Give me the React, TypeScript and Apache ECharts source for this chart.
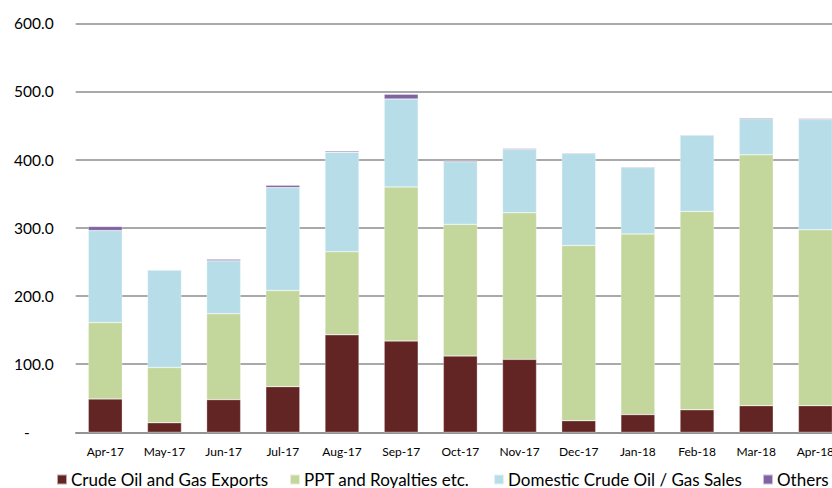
import React, { useEffect, useRef } from "react";
import * as echarts from "echarts";

const months = ["Apr-17", "May-17", "Jun-17", "Jul-17", "Aug-17", "Sep-17", "Oct-17", "Nov-17", "Dec-17", "Jan-18", "Feb-18", "Mar-18", "Apr-18"];
const crudeExports = [49, 14, 48, 67, 143, 134, 112, 107, 17, 26, 33, 39, 39];
const pptRoyalties = [112, 81, 126, 141, 122, 226, 193, 215, 257, 265, 291, 368, 258];
const domesticSales = [135, 143, 77.5, 151, 146, 129, 92, 93, 135, 97.5, 112, 53, 162];
const others = [6, 1, 2.5, 3.5, 1.5, 7, 1.5, 1.5, 1, 1, 1, 1.5, 1.5];

const seriesNames = ["Crude Oil and Gas Exports", "PPT and Royalties etc.", "Domestic Crude Oil / Gas Sales", "Others"];
const seriesColors = ["#632523", "#C3D69B", "#B7DEE8", "#8064A2"];
const legendLefts = [56, 289, 493, 762];

const FONT = "Lato";

export default function App() {
  const ref = useRef<HTMLDivElement>(null);

  useEffect(() => {
    if (!ref.current) return;
    const chart = echarts.init(ref.current, null, { renderer: "svg" });
    const values = [crudeExports, pptRoyalties, domesticSales, others];

    chart.setOption({
      animation: false,
      textStyle: { fontFamily: FONT },
      grid: { left: 75.7, right: 0, top: 23.3, bottom: 55.7, containLabel: false },
      legend: seriesNames.map((name, i) => ({
        data: [name],
        left: legendLefts[i],
        top: 471,
        itemWidth: 10,
        itemHeight: 10,
        icon: "rect",
        padding: 0,
        itemGap: 0,
        textStyle: { fontFamily: FONT, fontSize: 17, color: "#000", padding: [0, 0, 0, -1] },
      })),
      xAxis: {
        type: "category",
        data: months,
        axisTick: { show: false },
        axisLine: { lineStyle: { color: "#8c8c8c", width: 1.5 } },
        axisLabel: { fontFamily: FONT, fontSize: 12, color: "#000", margin: 13 },
      },
      yAxis: {
        type: "value",
        min: 0,
        max: 600,
        interval: 100,
        axisLine: { show: false },
        axisTick: { show: false },
        splitLine: { lineStyle: { color: "#8c8c8c", width: 1.5 } },
        axisLabel: {
          fontFamily: FONT,
          fontSize: 15.5,
          color: "#000",
          margin: 22,
          formatter: (v: number) => (v === 0 ? "-      " : v.toFixed(1)),
        },
      },
      series: seriesNames.map((name, i) => ({
        name,
        type: "bar",
        stack: "total",
        barWidth: 34,
        data: values[i],
        itemStyle: { color: seriesColors[i], borderColor: "rgba(255,255,255,0.6)", borderWidth: 0.5 },
      })),
    });

    return () => chart.dispose();
  }, []);

  // The plot runs a little past the right edge of the visible frame, so the
  // chart is drawn wider than its clipping wrapper.
  return (
    <div style={{ position: "fixed", left: 0, top: 0, width: 832, height: 488, overflow: "hidden", background: "#fff" }}>
      <div ref={ref} style={{ width: 845, height: 488 }} />
    </div>
  );
}
